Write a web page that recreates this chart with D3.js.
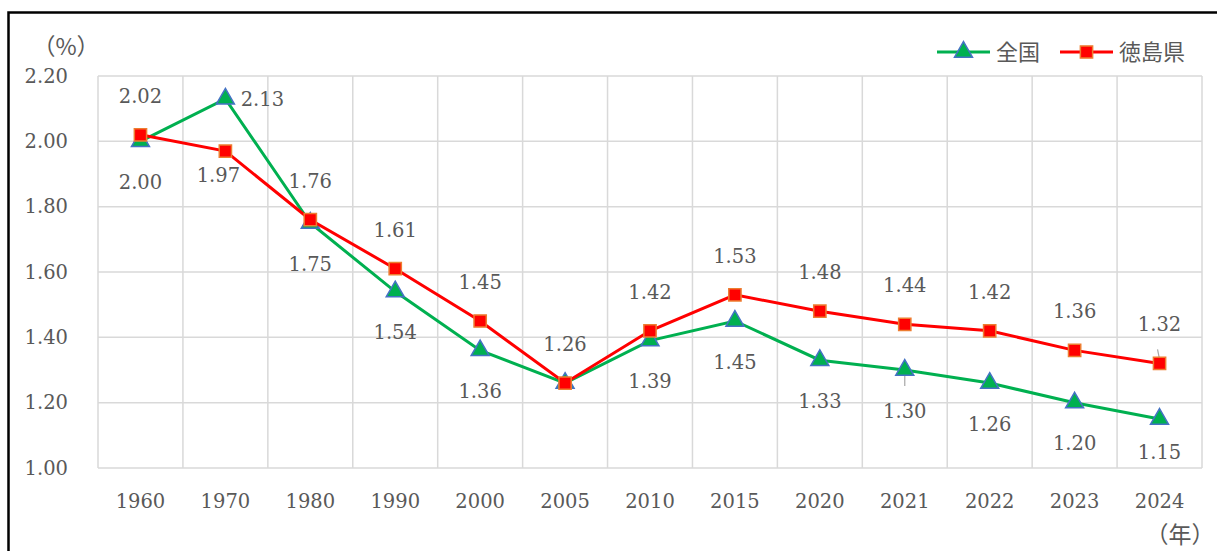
<!DOCTYPE html>
<html>
<head>
<meta charset="utf-8">
<title>合計特殊出生率</title>
<script src="https://cdn.jsdelivr.net/npm/d3@7"></script>
<style>
body { margin: 0; background: #fff; }
svg text { fill: #595959; }
.num { font-family: "DejaVu Serif", "Liberation Serif", serif; font-size: 19.5px; }
.jp { font-family: "Noto Sans CJK JP", sans-serif; font-size: 22px; }
</style>
</head>
<body>
<div id="chart"></div>
<script>
// data
var years = ["1960", "1970", "1980", "1990", "2000", "2005", "2010", "2015", "2020", "2021", "2022", "2023", "2024"];
var zenkoku = [2.00, 2.13, 1.75, 1.54, 1.36, 1.26, 1.39, 1.45, 1.33, 1.30, 1.26, 1.20, 1.15];
var tokushima = [2.02, 1.97, 1.76, 1.61, 1.45, 1.26, 1.42, 1.53, 1.48, 1.44, 1.42, 1.36, 1.32];
var zenkokuLabelSide = ["below", "right", "below", "below", "below", "none", "below", "below", "below", "below", "below", "below", "below"];
var tokushimaLabelSide = ["above", "below", "above", "above", "above", "above", "above", "above", "above", "above", "above", "above", "above"];
var yTicks = [1.00, 1.20, 1.40, 1.60, 1.80, 2.00, 2.20];
var seriesNames = ["全国", "徳島県"];

var width = 1217, height = 551;
var plotLeft = 98, plotRight = 1202, plotTop = 76, plotBottom = 468;

var svg = d3.select("#chart").append("svg")
    .attr("width", width)
    .attr("height", height);

// frame
svg.append("rect")
    .attr("x", 8.5).attr("y", 12.5)
    .attr("width", 1230).attr("height", 560)
    .attr("fill", "none")
    .attr("stroke", "#000")
    .attr("stroke-width", 2.5);

var x = d3.scaleBand().domain(years).range([plotLeft, plotRight]).padding(0);
var y = d3.scaleLinear().domain([1.0, 2.2]).range([plotBottom, plotTop]);
var cx = function(d, i) { return x(years[i]) + x.bandwidth() / 2; };

// grid
var grid = svg.append("g");
grid.selectAll(".hg").data(yTicks).enter().append("line")
    .attr("x1", plotLeft).attr("x2", plotRight)
    .attr("y1", function(d) { return y(d); })
    .attr("y2", function(d) { return y(d); })
    .attr("stroke", "#d9d9d9").attr("stroke-width", 1.5);
var bounds = years.map(function(c) { return x(c); }).concat([plotRight]);
grid.selectAll(".vg").data(bounds).enter().append("line")
    .attr("x1", function(d) { return d; }).attr("x2", function(d) { return d; })
    .attr("y1", plotTop).attr("y2", plotBottom)
    .attr("stroke", "#d9d9d9").attr("stroke-width", 1.5);

// axes
var yAxis = d3.axisLeft(y).tickValues(yTicks).tickFormat(d3.format(".2f")).tickSize(0).tickPadding(30);
svg.append("g").attr("transform", "translate(" + plotLeft + ",0)").call(yAxis)
    .call(function(g) { g.select(".domain").remove(); })
    .selectAll("text").attr("class", "num");

var xAxis = d3.axisBottom(x).tickSize(0).tickPadding(26);
svg.append("g").attr("transform", "translate(0," + plotBottom + ")").call(xAxis)
    .call(function(g) { g.select(".domain").remove(); })
    .selectAll("text").attr("class", "num");

svg.append("text").attr("class", "jp").attr("x", 66).attr("y", 47)
    .attr("dy", "0.35em").attr("text-anchor", "middle").style("font-size", "23px").text("（%）");
svg.append("text").attr("class", "jp").attr("x", 1180).attr("y", 535)
    .attr("dy", "0.35em").attr("text-anchor", "middle").style("font-size", "23px").text("（年）");

// series
var triangle = d3.symbol().type(d3.symbolTriangle).size(140);
var square = d3.symbol().type(d3.symbolSquare).size(150);
var line = d3.line().x(cx).y(function(d) { return y(d); });

function drawSeries(values, color, symbol, fill, edge) {
  var g = svg.append("g");
  g.append("path").datum(values)
      .attr("d", line)
      .attr("fill", "none")
      .attr("stroke", color)
      .attr("stroke-width", 3);
  g.selectAll("path.mk").data(values).enter().append("path")
      .attr("class", "mk")
      .attr("d", symbol)
      .attr("transform", function(d, i) { return "translate(" + cx(d, i) + "," + y(d) + ")"; })
      .attr("fill", fill)
      .attr("stroke", edge)
      .attr("stroke-width", 1.5);
}

// leader lines (labels pulled away from their markers)
svg.append("line").attr("x1", cx(0, 9)).attr("x2", cx(0, 9))
    .attr("y1", y(zenkoku[9]) + 2).attr("y2", y(zenkoku[9]) + 16)
    .attr("stroke", "#a6a6a6").attr("stroke-width", 1.2);
svg.append("line").attr("x1", cx(0, 12) - 2).attr("x2", cx(0, 12))
    .attr("y1", y(tokushima[12]) - 14).attr("y2", y(tokushima[12]) - 4)
    .attr("stroke", "#a6a6a6").attr("stroke-width", 1.2);

drawSeries(zenkoku, "#00b050", triangle, "#00b050", "#4472c4");
drawSeries(tokushima, "#ff0000", square, "#ff0000", "#ed7d31");

// data labels
var nudge = { "1-1": [-7, 24], "0-12": [0, 33] };
function drawLabels(values, sides, key) {
  values.forEach(function(v, i) {
    var s = sides[i];
    if (s === "none") return;
    var dx = 0, dy = s === "above" ? -39 : 41;
    if (s === "right") { dx = 37; dy = 0; }
    var n = nudge[key + "-" + i];
    if (n) { dx = n[0]; dy = n[1]; }
    svg.append("text").attr("class", "num")
        .attr("x", cx(v, i) + dx)
        .attr("y", y(v) + dy)
        .attr("dy", "0.35em")
        .attr("text-anchor", "middle")
        .text(d3.format(".2f")(v));
  });
}
drawLabels(zenkoku, zenkokuLabelSide, 0);
drawLabels(tokushima, tokushimaLabelSide, 1);

// legend
var legend = [
  { name: seriesNames[0], x: 937, color: "#00b050", symbol: triangle, fill: "#00b050", edge: "#4472c4" },
  { name: seriesNames[1], x: 1060, color: "#ff0000", symbol: square, fill: "#ff0000", edge: "#ed7d31" }
];
var lg = svg.append("g").selectAll("g").data(legend).enter().append("g")
    .attr("transform", function(d) { return "translate(" + d.x + ",52)"; });
lg.append("line").attr("x1", 0).attr("x2", 53)
    .attr("stroke", function(d) { return d.color; }).attr("stroke-width", 3);
lg.append("path").attr("d", function(d) { return d.symbol(); })
    .attr("transform", "translate(26.5,0)")
    .attr("fill", function(d) { return d.fill; })
    .attr("stroke", function(d) { return d.edge; })
    .attr("stroke-width", 1.5);
lg.append("text").attr("class", "jp").attr("x", 59).attr("dy", "0.36em")
    .text(function(d) { return d.name; });
</script>
</body>
</html>
